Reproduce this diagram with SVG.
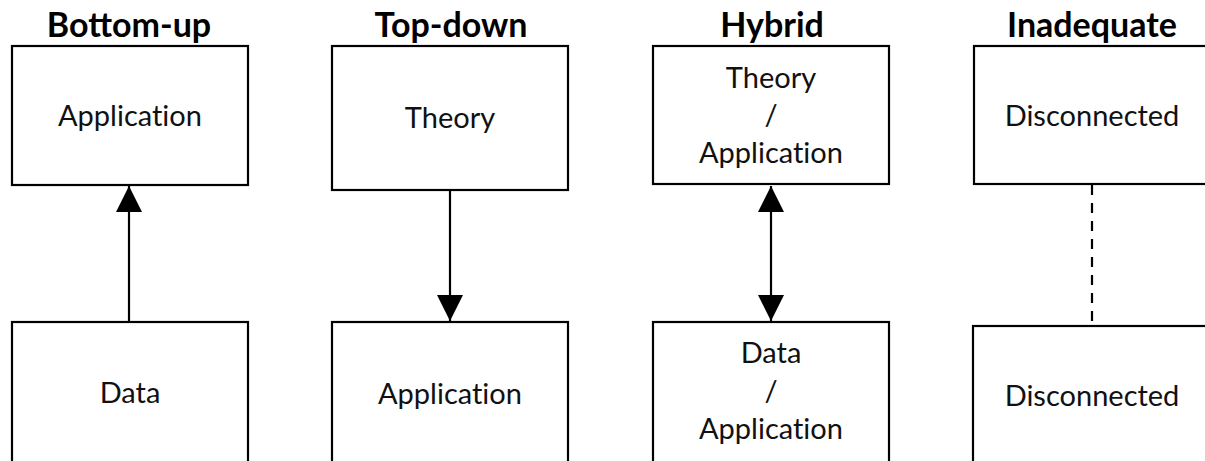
<svg xmlns="http://www.w3.org/2000/svg" width="1205" height="461" viewBox="0 0 1205 461">
<defs>
<style>
.box{fill:#fff;stroke:#000;stroke-width:2.2}
.t{font-family:Lato,"Liberation Sans",sans-serif;font-size:29px;fill:#111;text-anchor:middle;font-variant-ligatures:none}
.h{font-family:Lato,"Liberation Sans",sans-serif;font-size:34px;font-weight:bold;fill:#000;text-anchor:middle}
.c{stroke:#000;stroke-width:2.2;fill:none}
.d{stroke:#000;stroke-width:2.2;fill:none;stroke-dasharray:10 8}
</style>
<marker id="ah" viewBox="0 0 26 26" refX="26" refY="13" markerWidth="26" markerHeight="26" markerUnits="userSpaceOnUse" orient="auto-start-reverse">
<path d="M0,0 L26,13 L0,26 Z" fill="#000"/>
</marker>
</defs>
<rect width="1205" height="461" fill="#fff"/>
<g id="titles">
<text class="h" x="129" y="37">Bottom-up</text>
<text class="h" x="451" y="37">Top-down</text>
<text class="h" x="772" y="37">Hybrid</text>
<text class="h" x="1092" y="37">Inadequate</text>
</g>
<g id="connectors">
<line class="c" x1="129" y1="322" x2="129" y2="186" marker-end="url(#ah)"/>
<line class="c" x1="450" y1="190" x2="450" y2="321" marker-end="url(#ah)"/>
<line class="c" x1="771" y1="186" x2="771" y2="321" marker-start="url(#ah)" marker-end="url(#ah)"/>
<line class="d" x1="1092" y1="185" x2="1092" y2="321"/>
</g>
<g id="bu-app"><rect class="box" x="12" y="46" width="236" height="139"/><text class="t" x="130" y="126">Application</text></g>
<g id="bu-data"><rect class="box" x="12" y="322" width="236" height="160"/><text class="t" x="130" y="403">Data</text></g>
<g id="td-theory"><rect class="box" x="332" y="46" width="236" height="144"/><text class="t" x="450" y="128">Theory</text></g>
<g id="td-app"><rect class="box" x="332" y="322" width="236" height="160"/><text class="t" x="450" y="404">Application</text></g>
<g id="hy-top"><rect class="box" x="653" y="46" width="236" height="138"/><text class="t" x="771" y="88">Theory</text><text class="t" x="771" y="125">/</text><text class="t" x="771" y="163">Application</text></g>
<g id="hy-bottom"><rect class="box" x="653" y="322" width="236" height="160"/><text class="t" x="771" y="363">Data</text><text class="t" x="771" y="401">/</text><text class="t" x="771" y="439">Application</text></g>
<g id="in-top"><rect class="box" x="974" y="46" width="260" height="138"/><text class="t" x="1092" y="126">Disconnected</text></g>
<g id="in-bottom"><rect class="box" x="973" y="326" width="260" height="160"/><text class="t" x="1092" y="406">Disconnected</text></g>
</svg>
